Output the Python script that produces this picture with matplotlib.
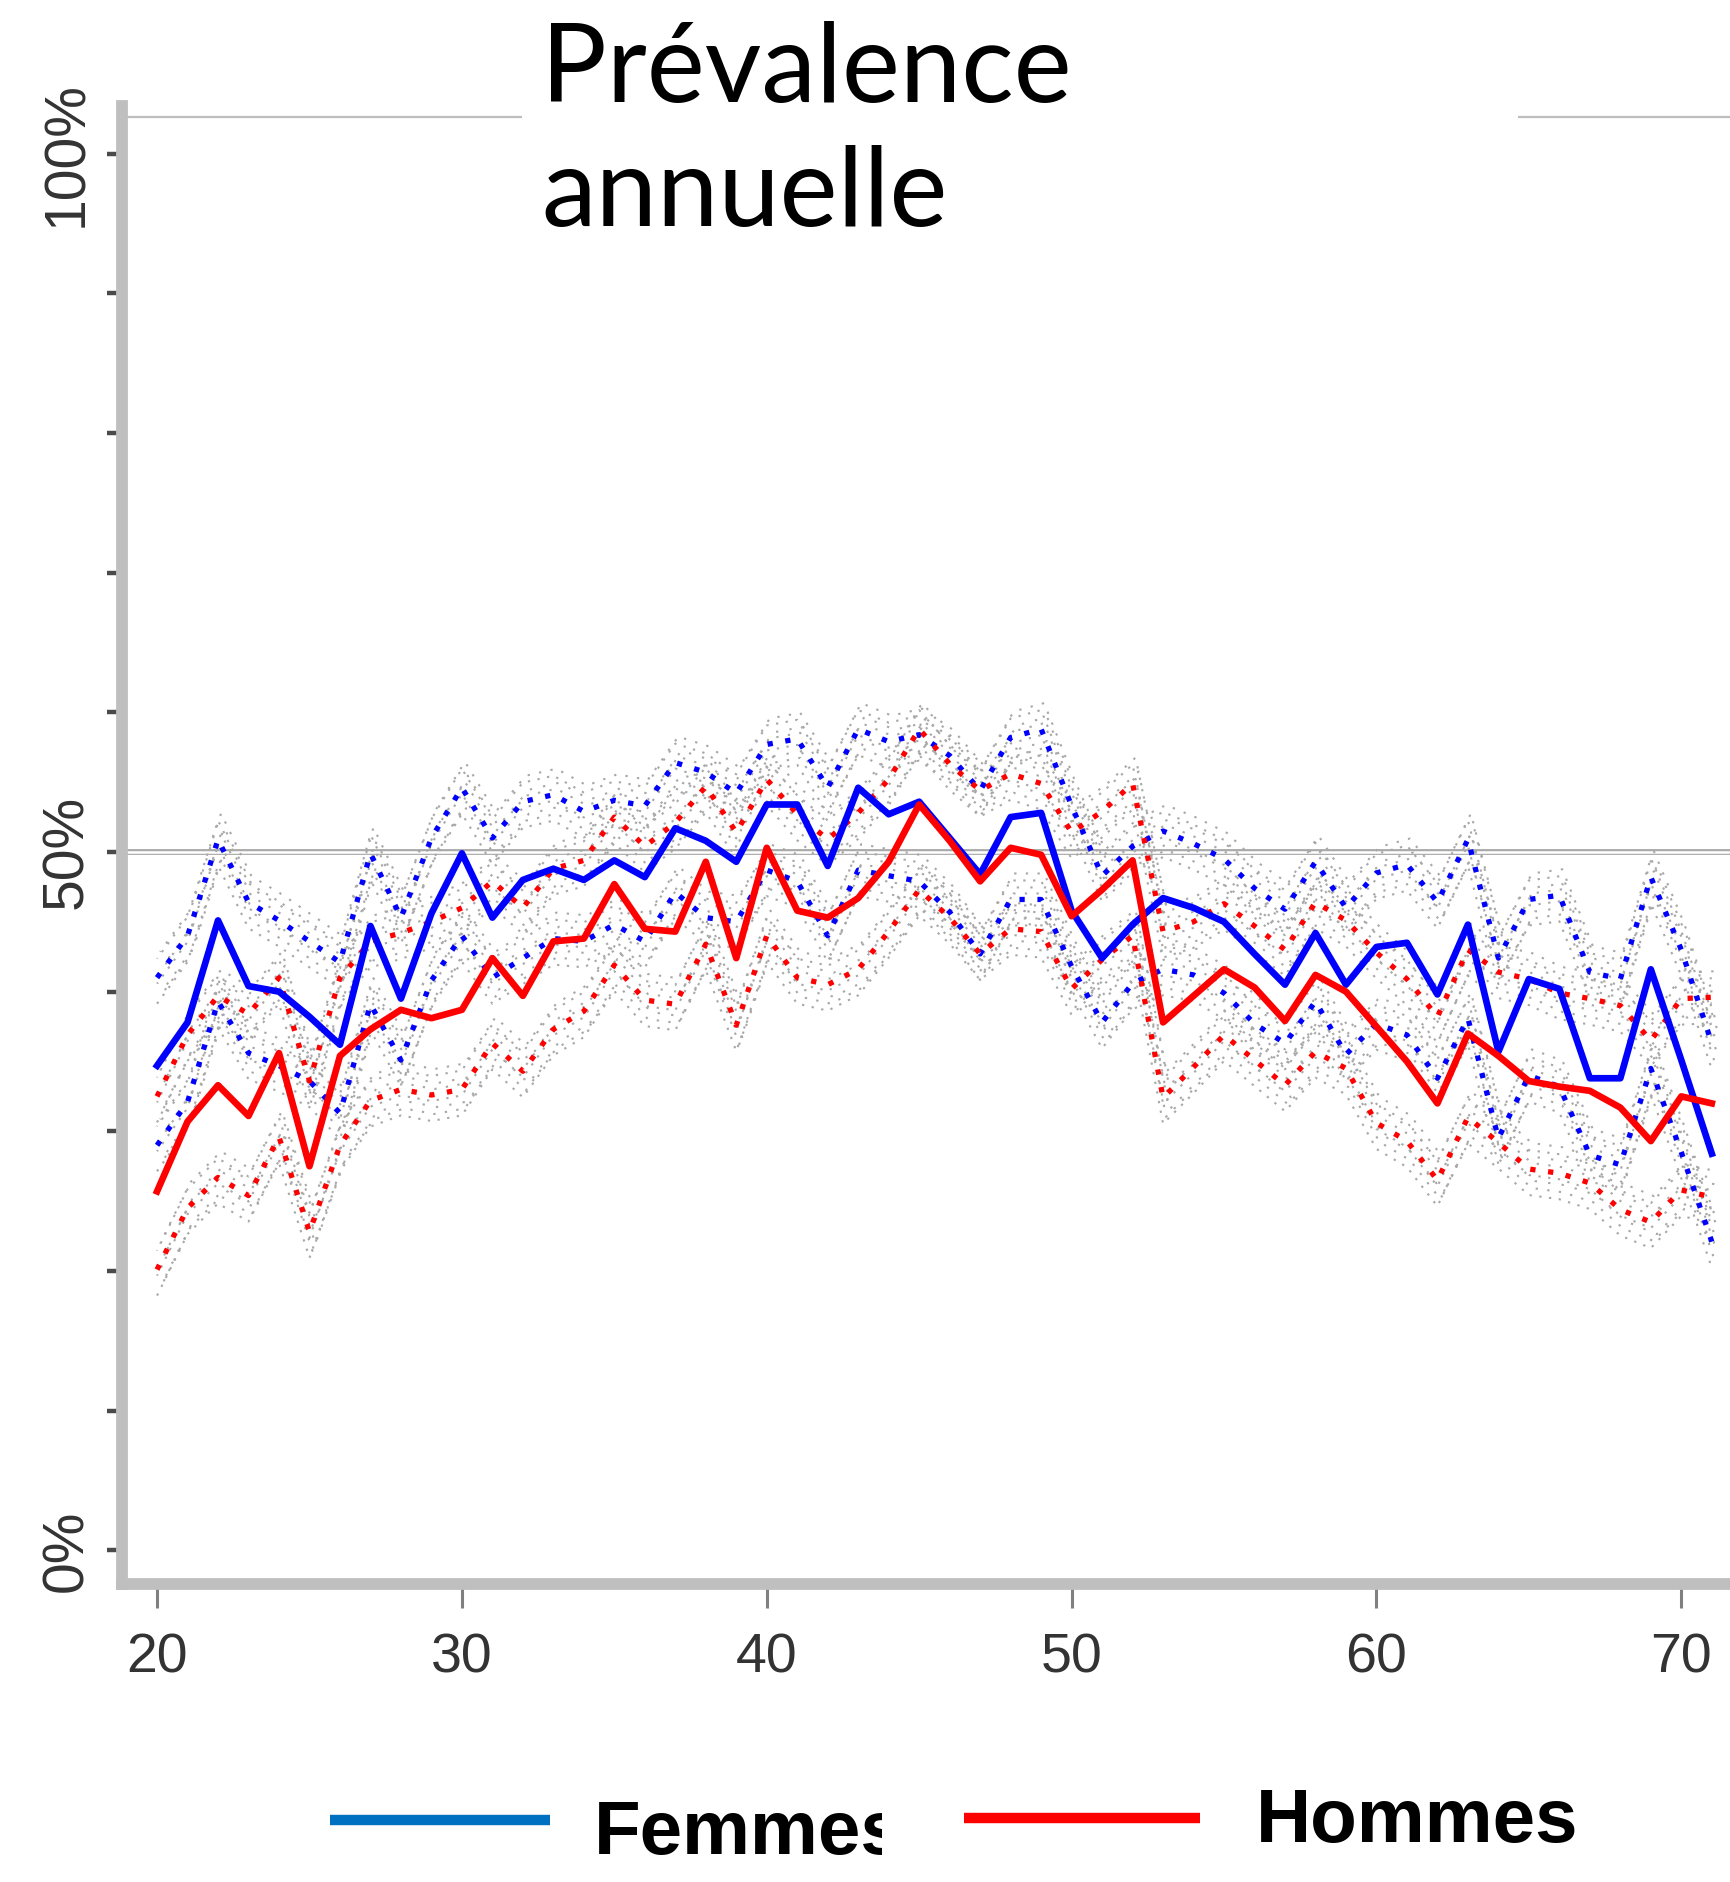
import matplotlib
matplotlib.use("Agg")
import matplotlib.pyplot as plt
from matplotlib import transforms
from matplotlib.patches import Rectangle
from matplotlib.lines import Line2D
from matplotlib.transforms import Bbox
import matplotlib.patheffects as pe

# ---- data: annual prevalence (%) by age, mean and confidence bounds ----
ages = list(range(20, 72))

femmes = [34.7, 37.8, 45.1, 40.4, 40.0, 38.2, 36.2, 44.7, 39.5, 45.6,
          49.9, 45.3, 48.0, 48.8, 48.0, 49.4, 48.2, 51.7, 50.8, 49.3,
          53.4, 53.4, 49.0, 54.6, 52.7, 53.6, 51.0, 48.4, 52.5, 52.8,
          45.8, 42.4, 44.8, 46.7, 46.0, 45.0, 42.7, 40.5, 44.2, 40.5,
          43.2, 43.5, 39.8, 44.8, 35.7, 40.9, 40.2, 33.8, 33.8, 41.6,
          35.1, 28.4]

femmes_haut = [41.0, 44.0, 50.9, 46.4, 45.1, 43.6, 42.1, 49.9, 45.3, 51.0,
               54.6, 51.0, 53.6, 54.1, 52.9, 53.7, 53.3, 56.4, 55.7, 54.2,
               57.7, 58.1, 54.6, 58.8, 57.9, 58.4, 56.9, 54.4, 58.2, 58.8,
               53.3, 48.3, 50.4, 51.5, 50.6, 49.5, 47.4, 45.9, 49.3, 46.0,
               48.5, 49.1, 46.4, 50.9, 42.4, 46.6, 46.9, 41.4, 40.9, 48.2,
               43.0, 36.3]

femmes_bas = [29.0, 32.1, 39.3, 35.6, 34.7, 33.6, 31.3, 39.1, 35.1, 40.8,
              44.0, 41.0, 42.4, 43.8, 43.6, 44.8, 43.6, 47.1, 45.3, 45.0,
              48.7, 47.9, 44.0, 48.7, 48.3, 47.9, 45.7, 42.7, 46.6, 46.6,
              41.8, 37.8, 40.6, 41.6, 41.2, 39.9, 37.7, 36.3, 39.3, 35.5,
              37.7, 36.9, 33.8, 38.1, 29.5, 34.0, 33.2, 28.3, 27.6, 34.5,
              28.5, 22.1]

hommes = [25.7, 30.7, 33.3, 31.1, 35.6, 27.5, 35.4, 37.3, 38.7, 38.1,
          38.7, 42.4, 39.7, 43.6, 43.8, 47.7, 44.5, 44.3, 49.3, 42.4,
          50.3, 45.8, 45.3, 46.7, 49.3, 53.4, 50.8, 47.9, 50.3, 49.8,
          45.4, 47.3, 49.4, 37.8, 39.7, 41.6, 40.3, 37.9, 41.2, 40.0,
          37.5, 35.0, 32.0, 37.0, 35.4, 33.6, 33.2, 32.9, 31.7, 29.3,
          32.5, 32.0]

hommes_haut = [32.5, 36.9, 39.7, 38.4, 41.0, 33.6, 41.0, 43.6, 44.2, 45.0,
               46.0, 47.9, 46.0, 48.8, 49.4, 52.5, 50.4, 52.1, 54.7, 51.4,
               55.2, 52.7, 50.9, 52.8, 55.2, 58.8, 56.3, 54.4, 55.6, 54.9,
               51.4, 52.9, 54.9, 44.3, 45.0, 46.3, 44.7, 43.0, 46.4, 45.1,
               42.8, 40.9, 38.2, 43.0, 41.4, 40.9, 39.9, 39.5, 39.0, 36.5,
               39.5, 39.6]

hommes_bas = [20.1, 24.5, 26.7, 25.4, 29.6, 22.8, 29.0, 32.2, 33.0, 32.6,
              33.0, 36.3, 34.3, 37.3, 38.6, 41.9, 39.4, 39.1, 43.4, 37.6,
              44.0, 41.0, 40.5, 41.6, 44.3, 47.3, 45.3, 42.7, 44.5, 44.3,
              40.2, 42.3, 44.0, 32.4, 34.6, 36.9, 35.1, 33.3, 35.7, 34.5,
              30.6, 29.3, 26.5, 31.0, 29.2, 27.3, 27.0, 26.3, 24.4, 23.5,
              25.8, 25.3]

x_ticks = [20, 30, 40, 50, 60, 70]
y_ticks = [0, 10, 20, 30, 40, 50, 60, 70, 80, 90, 100]
y_labels = {0: "0%", 50: "50%", 100: "100%"}
title = "Prévalence\nannuelle"
legend_labels = ["Femmes", "Hommes"]

# ---- figure geometry (pixels) ----
W, H, DPI = 1731, 1882, 100
fig = plt.figure(figsize=(W / DPI, H / DPI), dpi=DPI)
fig.patch.set_facecolor("white")


def fx(px):
    return px / W


def fy(py):
    return 1 - py / H


left_px, right_px, top_px, bottom_px = 122, 1731, 106, 1584
ax = fig.add_axes([fx(left_px), fy(bottom_px),
                   (right_px - left_px) / W, (bottom_px - top_px) / H])
ax.set_xlim(18.85, 71.63)
ax.set_ylim(-2.41, 103.41)
ax.set_facecolor("white")

SPINE = "#BFBFBF"
for side in ("top", "right"):
    ax.spines[side].set_visible(False)
for side in ("left", "bottom"):
    ax.spines[side].set_color(SPINE)
    ax.spines[side].set_linewidth(8.5)
    ax.spines[side].set_zorder(6)

sans = ["Liberation Sans", "DejaVu Sans"]

ax.set_xticks(x_ticks)
ax.set_xticklabels([str(v) for v in x_ticks], fontfamily=sans,
                   fontsize=40, color="#333333")
ax.tick_params(axis="x", direction="out", length=17, width=2.2,
               color="#808080", pad=18)

ax.set_yticks(y_ticks)
ax.set_yticklabels([y_labels.get(v, "") for v in y_ticks], fontfamily=sans,
                   fontsize=41, color="#333333", rotation=90, va="center")
ax.tick_params(axis="y", direction="out", length=11, width=3.2,
               color="#4a4a4a", pad=9)

# reference lines
ax.axhline(50, color="white", lw=1.8, zorder=1,
           path_effects=[pe.Stroke(linewidth=4.2, foreground="#AAAAAA"),
                         pe.Normal()])
ax.axhline(102.6, color="#BDBDBD", lw=1.6, zorder=1, clip_on=False)

# grey speckle accompanying the confidence bounds
halo_offsets = [-26, -19, -12, -6, 6, 12, 19, 26]
for series in (femmes_haut, femmes_bas, hommes_haut, hommes_bas):
    for i, dy in enumerate(halo_offsets):
        tr = transforms.offset_copy(ax.transData, fig=fig, x=(i % 3) * 3,
                                    y=dy, units="dots")
        ax.plot(ages, series, transform=tr, color="#A8A8A8", lw=1.5,
                linestyle=(i * 1.7, (1.1, 3.6 + (i % 3) * 0.9)), zorder=2)

BLUE, RED = "#0000FF", "#FF0000"
dotted = (0, (1.0, 2.4))
for series, col in ((femmes_haut, BLUE), (femmes_bas, BLUE),
                    (hommes_haut, RED), (hommes_bas, RED)):
    ax.plot(ages, series, color=col, lw=3.8, linestyle=dotted, zorder=3)

ax.plot(ages, femmes, color=BLUE, lw=4.8, zorder=4, solid_joinstyle="round")
ax.plot(ages, hommes, color=RED, lw=4.8, zorder=4, solid_joinstyle="round")

# title with white backing over the top frame line
fig.add_artist(Rectangle((fx(522), fy(240)), (1518 - 522) / W, 240 / H,
                         transform=fig.transFigure, facecolor="white",
                         edgecolor="none", zorder=8))
fig.text(fx(541), fy(226), title, fontfamily=["Lato", "DejaVu Sans"],
         fontsize=79, color="black", ha="left", va="baseline",
         linespacing=1.3, zorder=9)

# legend drawn below the axes
fig.add_artist(Line2D([fx(330), fx(550)], [fy(1820), fy(1820)],
                      transform=fig.transFigure, color="#0070C0", lw=7.5,
                      solid_capstyle="butt"))
fig.add_artist(Line2D([fx(964), fx(1200)], [fy(1818), fy(1818)],
                      transform=fig.transFigure, color="#FF0000", lw=7.5,
                      solid_capstyle="butt"))
t1 = fig.text(fx(594), fy(1854), legend_labels[0], fontfamily=sans,
              fontweight="bold", fontsize=55, color="black",
              ha="left", va="baseline")
t1.set_clip_box(Bbox.from_extents(0, 0, 882, H))
t1.set_clip_on(True)
fig.text(fx(1256), fy(1842), legend_labels[1], fontfamily=sans,
         fontweight="bold", fontsize=55, color="black",
         ha="left", va="baseline")

fig.savefig("out.png", dpi=DPI, facecolor="white")
